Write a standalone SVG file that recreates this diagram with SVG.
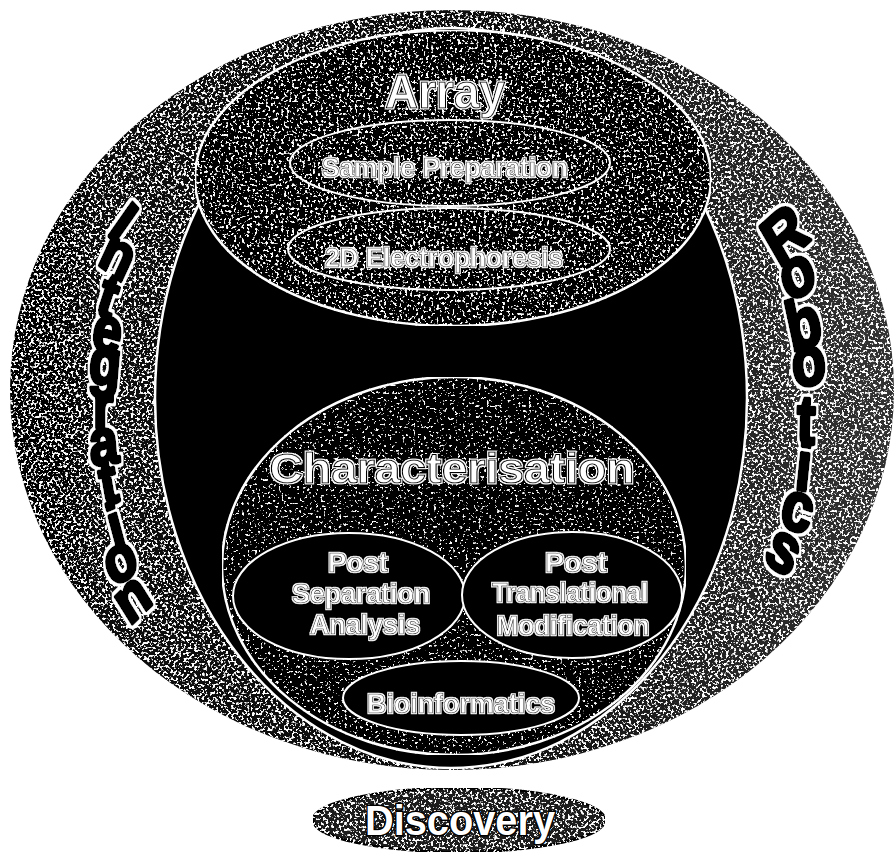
<svg xmlns="http://www.w3.org/2000/svg" width="895" height="854" viewBox="0 0 895 854">
<defs>
  <linearGradient id="ringGrad" x1="0" y1="0" x2="1" y2="0">
    <stop offset="0" stop-color="#050505"/>
    <stop offset="0.55" stop-color="#101010"/>
    <stop offset="1" stop-color="#333333"/>
  </linearGradient>
  <filter id="spkHeavy" x="0" y="0" width="100%" height="100%">
    <feTurbulence type="fractalNoise" baseFrequency="0.38" numOctaves="2" seed="7" result="n"/>
    <feColorMatrix in="n" type="matrix" values="0 0 0 0 1  0 0 0 0 1  0 0 0 0 1  12 0 0 0 -6.5" result="w"/>
    <feComposite in="w" in2="SourceAlpha" operator="in" result="wc"/>
    <feMerge><feMergeNode in="SourceGraphic"/><feMergeNode in="wc"/></feMerge>
  </filter>
  <filter id="spkMed" x="0" y="0" width="100%" height="100%">
    <feTurbulence type="fractalNoise" baseFrequency="0.38" numOctaves="2" seed="3" result="n"/>
    <feColorMatrix in="n" type="matrix" values="0 0 0 0 1  0 0 0 0 1  0 0 0 0 1  12 0 0 0 -7.0" result="w"/>
    <feComposite in="w" in2="SourceAlpha" operator="in" result="wc"/>
    <feMerge><feMergeNode in="SourceGraphic"/><feMergeNode in="wc"/></feMerge>
  </filter>
  <filter id="spkLight" x="0" y="0" width="100%" height="100%">
    <feTurbulence type="fractalNoise" baseFrequency="0.38" numOctaves="2" seed="11" result="n"/>
    <feColorMatrix in="n" type="matrix" values="0 0 0 0 1  0 0 0 0 1  0 0 0 0 1  12 0 0 0 -7.6" result="w"/>
    <feComposite in="w" in2="SourceAlpha" operator="in" result="wc"/>
    <feMerge><feMergeNode in="SourceGraphic"/><feMergeNode in="wc"/></feMerge>
  </filter>
  <filter id="halo" x="-40%" y="-15%" width="180%" height="130%">
    <feMorphology in="SourceAlpha" operator="dilate" radius="2.2" result="d"/>
    <feFlood flood-color="#ffffff" result="f"/>
    <feComposite in="f" in2="d" operator="in" result="w"/>
    <feMerge><feMergeNode in="w"/><feMergeNode in="SourceGraphic"/></feMerge>
  </filter>
  <filter id="haloThin" x="-10%" y="-20%" width="120%" height="140%">
    <feMorphology in="SourceAlpha" operator="dilate" radius="1.2" result="d"/>
    <feFlood flood-color="#ffffff" result="f"/>
    <feComposite in="f" in2="d" operator="in" result="w"/>
    <feMerge><feMergeNode in="w"/><feMergeNode in="SourceGraphic"/></feMerge>
  </filter>
  <style>
    text { font-family: "Liberation Sans", Arial, sans-serif; }
    .big { font-weight: bold; fill: #fff; stroke: #000; stroke-width: 1.1; text-anchor: middle; filter: url(#haloThin); }
    .lbl { font-size: 28px; font-weight: bold; fill: #fff; stroke: #000; stroke-width: 0.6; text-anchor: middle; filter: url(#haloThin); }
    .side { font-weight: bold; fill: #000; stroke: #000; stroke-width: 3.2; stroke-linejoin: round; filter: url(#halo); }
    .wline { stroke: #fff; stroke-width: 2.5; }
    .wthin { stroke: #fff; stroke-width: 2; }
  </style>
</defs>
<rect width="895" height="854" fill="#fff"/>

<g id="outer-ring">
  <ellipse cx="452" cy="390" rx="442" ry="380" fill="url(#ringGrad)" filter="url(#spkHeavy)"/>
</g>

<g id="integration">
  <text class="side" font-size="52" transform="scale(1,1.25)" x="106.2 96.2 94.0 89.9 87.7 92.9 91.1 103.4 114.2 113.1 129.5" y="186.6 210.6 249.7 278.2 306.1 342.3 372.6 404.4 440.3 470.2 501.2" rotate="41.2 30.2 22.1 12.4 6.2 0 -6.2 -12.4 -18.5 -26.8 -38">Integration</text>
</g>

<g id="robotics">
  <text class="side" font-size="56" transform="scale(1,1.25)" x="779.2 788.6 791.7 793.6 795.9 793.7 777.7 762.0" y="214.8 242.4 281.6 309.9 355.0 391.0 419.2 448.1" rotate="-35.8 -24.5 -14.9 -6.2 2.5 7.5 17.3 29.1">Robotics</text>
</g>

<g id="core">
  <ellipse cx="451" cy="398" rx="296" ry="370" fill="#000" class="wline"/>
</g>

<g id="characterisation">
  <ellipse cx="454" cy="566" rx="232" ry="189" fill="#030303" class="wline" filter="url(#spkLight)"/>
  <text class="big" x="452" y="483" font-size="42" textLength="365" lengthAdjust="spacingAndGlyphs">Characterisation</text>
</g>

<g id="post-separation-analysis">
  <ellipse cx="349" cy="596" rx="116" ry="63" fill="#000" class="wthin"/>
  <text class="lbl" x="358" y="572" textLength="60" lengthAdjust="spacingAndGlyphs">Post</text>
  <text class="lbl" x="361" y="603" textLength="138" lengthAdjust="spacingAndGlyphs">Separation</text>
  <text class="lbl" x="365" y="634" textLength="110" lengthAdjust="spacingAndGlyphs">Analysis</text>
</g>

<g id="post-translational-modification">
  <ellipse cx="572" cy="595" rx="110" ry="63" fill="#000" class="wthin"/>
  <text class="lbl" x="576" y="572" textLength="62" lengthAdjust="spacingAndGlyphs">Post</text>
  <text class="lbl" x="570" y="602" textLength="156" lengthAdjust="spacingAndGlyphs">Translational</text>
  <text class="lbl" x="573" y="635" textLength="153" lengthAdjust="spacingAndGlyphs">Modification</text>
</g>

<g id="bioinformatics">
  <ellipse cx="461" cy="698" rx="118" ry="37" fill="#000" class="wthin"/>
  <text class="lbl" x="461" y="713" textLength="188" lengthAdjust="spacingAndGlyphs">Bioinformatics</text>
</g>

<g id="array">
  <ellipse cx="453" cy="178" rx="258" ry="148" fill="#050505" class="wline" filter="url(#spkMed)"/>
  <text class="big" x="445" y="108" font-size="48" textLength="120" lengthAdjust="spacingAndGlyphs">Array</text>
</g>

<g id="sample-preparation">
  <ellipse cx="450" cy="163" rx="160" ry="43" fill="none" class="wthin"/>
  <text class="lbl" x="445" y="177" textLength="246" lengthAdjust="spacingAndGlyphs">Sample Preparation</text>
</g>

<g id="electrophoresis">
  <ellipse cx="449" cy="249" rx="161" ry="41" fill="none" class="wthin"/>
  <text class="lbl" x="444" y="267" textLength="238" lengthAdjust="spacingAndGlyphs">2D Electrophoresis</text>
</g>

<g id="discovery">
  <ellipse cx="459" cy="820" rx="146" ry="32" fill="#1a1a1a" stroke="#000" stroke-width="2.5" filter="url(#spkHeavy)"/>
  <text x="460" y="835" font-size="42" font-weight="bold" fill="#fff" stroke="#000" stroke-width="3" paint-order="stroke" text-anchor="middle" textLength="190" lengthAdjust="spacingAndGlyphs">Discovery</text>
</g>

<g id="connectors"/>
</svg>
